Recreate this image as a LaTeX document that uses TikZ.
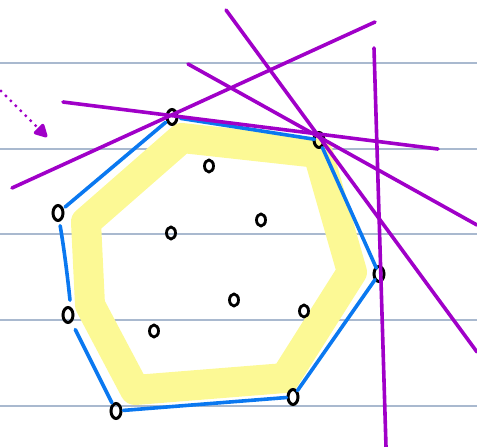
\documentclass[tikz,border=0pt]{standalone}
\usetikzlibrary{shapes.geometric,arrows.meta}
\definecolor{ppl}{HTML}{A000C8}
\definecolor{hullblue}{HTML}{0A78F0}
\definecolor{hl}{HTML}{FCF995}
\definecolor{rule}{HTML}{A9B9CF}
\tikzset{
  rulel/.style={rule,line width=1.2pt},
  band/.style={hl,line width=30pt,line join=round},
  hullline/.style={hullblue,line width=3.6pt,line cap=round},
  cut/.style={ppl,line width=3.6pt,line cap=round},
  vtx/.style={ellipse,draw=black,line width=3pt,minimum width=10pt,minimum height=15pt,inner sep=0pt},
  ipt/.style={ellipse,draw=black,line width=2.8pt,minimum width=9pt,minimum height=12pt,inner sep=0pt},
}
\begin{document}
\begin{tikzpicture}[x=1pt,y=-1pt]
\useasboundingbox (0,0) rectangle (477,447);
% ruled lines
\foreach \yy [count=\i] in {63,149,234,320,406}
  \draw[rulel] (0,\yy) coordinate (rl\i) -- (477,\yy) coordinate (rr\i);
% highlighter band
\draw[band] (182,138) -- (318,153) -- (352,272) -- (285,378) -- (135,390) -- (90,305) -- (86,222) -- cycle;
% points
\node[vtx] (p1) at (172,117) {};
\node[vtx] (p2) at (319,140) {};
\node[vtx] (p3) at (379,274) {};
\node[vtx] (p4) at (293,397) {};
\node[vtx] (p5) at (116,411) {};
\node[vtx] (p6) at (68,315) {};
\node[vtx] (p7) at (58,213) {};
\node[ipt] (q1) at (209,166) {};
\node[ipt] (q2) at (171,233) {};
\node[ipt] (q3) at (261,220) {};
\node[ipt] (q4) at (234,300) {};
\node[ipt] (q5) at (304,311) {};
\node[ipt] (q6) at (154,331) {};
% hull
\draw[hullline,shorten <=2pt,shorten >=1pt] (p7) -- (p1);
\draw[hullline,shorten <=2pt,shorten >=-2pt] (p1) -- (p2);
\draw[hullline,shorten <=0pt,shorten >=-2pt] (p2) -- (p3);
\draw[hullline,shorten <=-1pt,shorten >=0pt] (p3) -- (p4);
\draw[hullline,shorten <=0pt,shorten >=1pt] (p4) -- (p5);
\draw[hullline,shorten <=1pt,shorten >=8pt] (p5) -- (p6);
\draw[hullline,shorten <=6pt,shorten >=4pt] (p6) .. controls (70,300) and (66,260) .. (p7);
% cutting lines
\coordinate (a1) at (226,10);  \coordinate (a2) at (477,352);
\coordinate (b1) at (375,22);  \coordinate (b2) at (12,188);
\coordinate (c1) at (63,102);  \coordinate (c2) at (438,149);
\coordinate (d1) at (188,64);  \coordinate (d2) at (477,225);
\coordinate (e1) at (374,48);  \coordinate (e2) at (386,447);
\draw[cut] (a1) -- (a2);
\draw[cut] (b1) -- (b2);
\draw[cut] (c1) -- (c2);
\draw[cut] (d1) -- (d2);
\draw[cut] (e1) -- (e2);
% dotted arrow
\coordinate (s1) at (1,91);
\coordinate (s2) at (47,137);
\draw[ppl,line width=3.4pt,line cap=round,dash pattern=on 0pt off 7pt,
      -{Triangle[length=15pt,width=15pt,round]}] (s1) -- (s2);
\end{tikzpicture}
\end{document}
